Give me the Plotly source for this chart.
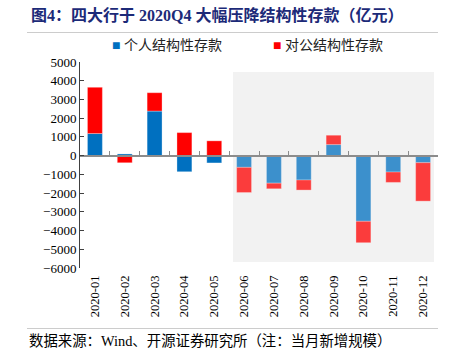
import plotly.graph_objects as go

months = ["2020-01", "2020-02", "2020-03", "2020-04", "2020-05", "2020-06",
          "2020-07", "2020-08", "2020-09", "2020-10", "2020-11", "2020-12"]
personal = [1180, 90, 2380, -860, -390, -625, -1470, -1300, 590, -3505, -875, -375]
corporate = [2470, -380, 980, 1230, 790, -1345, -300, -540, 500, -1145, -555, -2055]
highlight_from = 5  # 2020-06 onward shaded

BLUE = "#0070c0"
RED = "#ff0000"
SERIF = "Liberation Serif, Times New Roman, Noto Sans CJK SC, serif"
CJK = "Liberation Serif, Noto Sans CJK SC, sans-serif"

opac = [1.0 if i < highlight_from else 0.75 for i in range(len(months))]

fig = go.Figure()
fig.add_trace(go.Bar(x=months, y=personal, name="个人结构性存款",
                     marker=dict(color=BLUE, opacity=opac,
                                 line=dict(color="rgba(255,255,255,0.5)", width=0.6))))
fig.add_trace(go.Bar(x=months, y=corporate, name="对公结构性存款",
                     marker=dict(color=RED, opacity=opac,
                                 line=dict(color="rgba(255,255,255,0.5)", width=0.6))))
# invisible helper trace for the zero-line axis with boundary ticks
fig.add_trace(go.Scatter(x=[0], y=[0], xaxis="x2", yaxis="y", mode="markers",
                         marker=dict(opacity=0), showlegend=False, hoverinfo="skip"))
# frame rules (top and bottom) drawn on a hidden full-figure axis pair
fig.add_trace(go.Scatter(x=[0, 1, None, 0, 1], y=[1, 1, None, 0, 0],
                         xaxis="x3", yaxis="y3", mode="lines", cliponaxis=False,
                         line=dict(color="#9a9a9a", width=1.2),
                         showlegend=False, hoverinfo="skip"))

ymin, ymax = -6000, 5000

# paper area spans the rules: x 27..438 px, y 32..329 px
PL, PR, PT, PB = 27, 438, 32, 329
PW, PH = PR - PL, PB - PT


def px_x(x):
    return (x - PL) / PW


def px_y(y):
    return (PB - y) / PH


xdom = [px_x(80), 1.0]
ydom = [px_y(268), px_y(62)]
zero_pos = ydom[0] + (0 - ymin) / (ymax - ymin) * (ydom[1] - ydom[0])

hidden = dict(domain=[0, 1], range=[0, 1], visible=False, fixedrange=True)

fig.update_layout(
    width=452, height=356,
    margin=dict(l=PL, r=452 - PR, t=PT, b=356 - PB),
    paper_bgcolor="white", plot_bgcolor="rgba(0,0,0,0)",
    barmode="relative", bargap=0.5,
    showlegend=False,
    title=dict(text="<b>图4：四大行于 2020Q4 大幅压降结构性存款（亿元）</b>",
               x=31 / 452, xanchor="left", y=1 - 15 / 356, yanchor="middle",
               font=dict(family=CJK, size=16, color="#1c2a78")),
    xaxis=dict(domain=xdom, type="category", categoryorder="array", categoryarray=months,
               showline=False, ticks="", tickangle=-90, showgrid=False,
               tickfont=dict(family=SERIF, size=12.5, color="black"),
               ticklabelstandoff=4),
    xaxis2=dict(domain=xdom, overlaying="x", anchor="free", position=zero_pos,
                range=[-0.5, len(months) - 0.5], tick0=-0.5, dtick=1,
                showline=True, linecolor="#8c8c8c", linewidth=1.5,
                ticks="inside", ticklen=4, tickcolor="#8c8c8c", tickwidth=1,
                showticklabels=False, showgrid=False, zeroline=False),
    xaxis3=dict(hidden, anchor="y3"),
    yaxis3=dict(hidden, anchor="x3"),
    yaxis=dict(domain=ydom, range=[ymin, ymax], dtick=1000, showgrid=False, zeroline=False,
               showline=True, linecolor="#404040", linewidth=1,
               ticks="inside", ticklen=4, tickcolor="#404040",
               tickfont=dict(family=SERIF, size=13, color="black")),
    shapes=[
        dict(type="rect", xref="paper", yref="paper", x0=px_x(233), x1=px_x(434),
             y0=px_y(262), y1=px_y(72), fillcolor="#f2f2f2", line=dict(width=0),
             layer="below"),
    ],
    annotations=[
        dict(text=f'<span style="color:{BLUE}">■</span> 个人结构性存款',
             xref="paper", yref="paper", x=px_x(110), y=px_y(45),
             xanchor="left", yanchor="middle", showarrow=False,
             font=dict(family=CJK, size=14, color="#222222")),
        dict(text=f'<span style="color:{RED}">■</span> 对公结构性存款',
             xref="paper", yref="paper", x=px_x(271), y=px_y(45),
             xanchor="left", yanchor="middle", showarrow=False,
             font=dict(family=CJK, size=14, color="#222222")),
        dict(text="数据来源：Wind、开源证券研究所（注：当月新增规模）",
             xref="paper", yref="paper", x=0, y=px_y(341),
             xanchor="left", yanchor="middle", showarrow=False,
             font=dict(family=CJK, size=14.4, color="black")),
    ],
)

fig.write_html("out.html", config={"displayModeBar": False},
               post_script="document.body.style.margin='0';")
